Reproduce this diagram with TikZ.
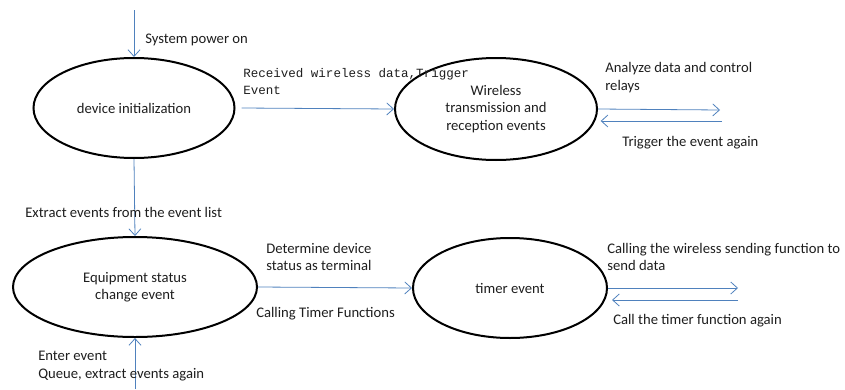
\documentclass[tikz,border=0pt]{standalone}
\usepackage{fontspec}
\setmainfont{Carlito}
\newfontfamily\monofont{Liberation Mono}
\usetikzlibrary{shapes.geometric,arrows.meta}
\definecolor{arrowblue}{RGB}{79,129,189}
\definecolor{txt}{RGB}{30,30,30}
\tikzset{
  state/.style={ellipse,draw=black,line width=1.5pt,inner sep=0pt,align=center,text=txt,
    font=\fontsize{11}{13.1}\selectfont},
  lbl/.style={anchor=west,inner sep=0pt,align=left,text=txt,font=\fontsize{11}{13.1}\selectfont},
  monolbl/.style={anchor=west,inner sep=0pt,align=left,text=txt,font=\monofont\fontsize{9.4}{12.75}\selectfont},
  flow/.style={draw=arrowblue,line width=0.6pt,-{Straight Barb[length=5pt,width=9pt]}}
}
\begin{document}
\begin{tikzpicture}[x=0.75pt,y=-0.75pt]
\useasboundingbox (0,0) rectangle (845,389);
% states
\node[state,minimum width=150.75pt,minimum height=75pt] (e1) at (134,108) {device initialization};
\node[state,minimum width=151.5pt,minimum height=76.5pt] (e2) at (496,109) {Wireless\\transmission and\\reception events};
\node[state,minimum width=183pt,minimum height=75pt] (e3) at (135,287) {Equipment status\\change event};
\node[state,minimum width=145.5pt,minimum height=75pt] (e4) at (510,288) {timer event};
% free ends
\coordinate (top) at (134,10);
\coordinate (bot) at (135,389);
\coordinate (r2a) at (720,110);
\coordinate (r2b) at (722,121);
\coordinate (r4a) at (738,288);
\coordinate (r4b) at (738,300);
% connectors
\draw[flow] (top) -- (e1.north);
\draw[flow] ([xshift=4.5pt]e1.east) -- (e2.west);
\draw[flow] (e1.south) -- (e3.north);
\draw[flow] (bot) -- (e3.south);
\draw[flow] (e3.east) -- (e4.west);
\draw[flow] (e2.east) -- (r2a);
\draw[flow] (r2b) -- ([xshift=2pt]e2.east |- r2b);
\draw[flow] (e4.east) -- (r4a);
\draw[flow] (r4b) -- ([xshift=3pt]e4.east |- r4b);
% labels
\node[lbl] (l1) at (145,40) {System power on};
\node[monolbl] (l2) at (243,81.5) {Received wireless data,Trigger\\Event};
\node[lbl] (l3) at (605,77.5) {Analyze data and control\\relays};
\node[lbl] (l4) at (622,143) {Trigger the event again};
\node[lbl] (l5) at (25,212) {Extract events from the event list};
\node[lbl] (l6) at (266,257) {Determine device\\status as terminal};
\node[lbl] (l7) at (256,314) {Calling Timer Functions};
\node[lbl] (l8) at (38,366) {Enter event\\Queue, extract events again};
\node[lbl] (l9) at (607,257) {Calling the wireless sending function to\\send data};
\node[lbl] (l10) at (613,321) {Call the timer function again};
\end{tikzpicture}
\end{document}
